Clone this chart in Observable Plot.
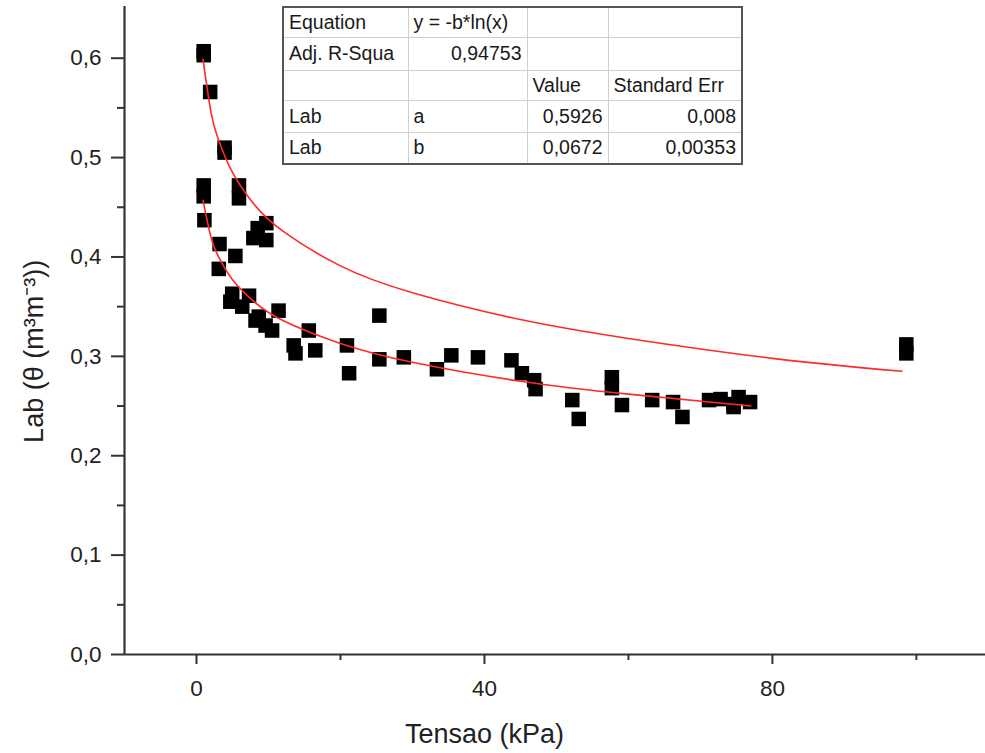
<!DOCTYPE html>
<html>
<head>
<meta charset="utf-8">
<script src="https://cdn.jsdelivr.net/npm/d3@7"></script>
<script src="https://cdn.jsdelivr.net/npm/@observablehq/plot@0.6"></script>
<style>
  html, body { margin: 0; padding: 0; background: #fff; }
  #wrap { position: relative; width: 985px; height: 753px; font-family: "Liberation Sans", Arial, sans-serif; }
  #fit { position: absolute; left: 282px; top: 6px; border-collapse: collapse; table-layout: fixed; border: 2px solid #555; font-size: 19.5px; color: #1a1a1a; background: #fff; }
  #fit td { border: 1.5px solid #cfcfcf; padding: 0 5px; white-space: nowrap; overflow: hidden; box-sizing: border-box; }
  #fit td.num { text-align: right; }
</style>
</head>
<body>
<div id="wrap"></div>
<script>
// ---- Data ----
const tensao = [1.0, 1.0, 1.9, 3.9, 3.9, 1.0, 1.0, 5.9, 5.9, 1.1, 7.9, 8.5, 9.7, 9.7, 3.2, 5.4, 3.1,
  4.96, 4.7, 7.3, 6.35, 8.65, 11.4, 10.5, 9.6, 8.2, 15.6, 13.5, 13.75, 16.5, 20.9, 21.2,
  25.4, 25.4, 28.8, 33.4, 35.4, 39.1, 43.75, 45.2, 46.9, 47.1, 52.2, 53.1, 57.7, 57.7, 59.1,
  63.3, 66.2, 67.5, 71.2, 72.8, 74.6, 75.3, 74.6, 76.9, 98.6, 98.6];
const lab = [0.607, 0.603, 0.566, 0.510, 0.505, 0.472, 0.461, 0.472, 0.459, 0.437, 0.419, 0.429, 0.417, 0.434, 0.413, 0.401, 0.388,
  0.363, 0.355, 0.361, 0.350, 0.340, 0.346, 0.326, 0.331, 0.336, 0.326, 0.311, 0.303, 0.306, 0.311, 0.283,
  0.341, 0.297, 0.299, 0.287, 0.301, 0.299, 0.296, 0.283, 0.276, 0.267, 0.256, 0.237, 0.279, 0.268, 0.251,
  0.256, 0.254, 0.239, 0.256, 0.257, 0.252, 0.259, 0.249, 0.254, 0.312, 0.303];

// fitted curves
const upperX = [0.9, 2, 3, 5, 8, 12, 20, 30, 45, 60, 80, 98];
const upperY = [0.599, 0.546, 0.519, 0.485, 0.453, 0.426, 0.391, 0.364, 0.337, 0.318, 0.298, 0.285];
const lowerX = [0.9, 2, 3, 5, 8, 12, 20, 30, 45, 60, 77];
const lowerY = [0.457, 0.420, 0.401, 0.377, 0.355, 0.336, 0.313, 0.294, 0.275, 0.262, 0.250];

// ticks
const xMajor = [0, 40, 80];
const xMinor = [20, 60, 100];
const yMajor = [0, 0.1, 0.2, 0.3, 0.4, 0.5, 0.6];
const yMinor = [0.05, 0.15, 0.25, 0.35, 0.45, 0.55];

// titles
const xTitle = "Tensao (kPa)";
const yTitle = "Lab (θ (m³m⁻³))";

// fit table
const tableRows = [
  ["Equation", "y = -b*ln(x)", "", ""],
  ["Adj. R-Squa", "0,94753", "", ""],
  ["", "", "Value", "Standard Err"],
  ["Lab", "a", "0,5926", "0,008"],
  ["Lab", "b", "0,0672", "0,00353"]
];
const colWidths = [125, 119, 81, 134];
const rowHeights = [30, 33, 30, 32, 32];

// ---- Build ----
const points = tensao.map((x, i) => ({x, y: lab[i]}));
const upper = upperX.map((x, i) => ({x, y: upperY[i]}));
const lower = lowerX.map((x, i) => ({x, y: lowerY[i]}));
const fmt = d => d.toFixed(1).replace(".", ",");
const axisColor = "#333";
const font = "'Liberation Sans', Arial, sans-serif";

const chart = Plot.plot({
  width: 985,
  height: 753,
  marginLeft: 124,
  marginRight: 0,
  marginTop: 8,
  marginBottom: 99,
  style: {fontFamily: font, color: "#222", background: "#fff"},
  x: {domain: [-10, 109.6]},
  y: {domain: [0, 0.65]},
  marks: [
    Plot.axisY({ticks: yMajor, tickSize: 13, tickPadding: 10, tickFormat: fmt, fontSize: 22.5, label: null, stroke: axisColor, strokeWidth: 2}),
    Plot.axisY({ticks: yMinor, tickSize: 7, text: null, label: null, stroke: axisColor, strokeWidth: 2}),
    Plot.axisX({ticks: xMajor, tickSize: 10, tickPadding: 16, tickFormat: d => String(d), fontSize: 22.5, label: null, stroke: axisColor, strokeWidth: 2}),
    Plot.axisX({ticks: xMinor, tickSize: 6, text: null, label: null, stroke: axisColor, strokeWidth: 2}),
    Plot.ruleY([0], {stroke: axisColor, strokeWidth: 2.2}),
    Plot.ruleX([-10], {stroke: axisColor, strokeWidth: 2.2, y1: 0, y2: 0.652}),
    Plot.dot(points, {x: "x", y: "y", symbol: "square", r: 8.2, fill: "black"}),
    Plot.line(upper, {x: "x", y: "y", stroke: "#ff2a2a", strokeWidth: 1.6, curve: "natural"}),
    Plot.line(lower, {x: "x", y: "y", stroke: "#ff2a2a", strokeWidth: 1.6, curve: "natural"}),
    Plot.text([xTitle], {x: 40, frameAnchor: "bottom", dy: 88, text: d => d, fontSize: 27, fill: "#222"}),
    Plot.text([yTitle], {y: 0.305, frameAnchor: "left", dx: -90, rotate: -90, textAnchor: "middle", text: d => d, fontSize: 27, fill: "#222"})
  ]
});

const wrap = document.getElementById("wrap");
wrap.appendChild(chart);

// table overlay
const table = document.createElement("table");
table.id = "fit";
tableRows.forEach((row, r) => {
  const tr = document.createElement("tr");
  tr.style.height = rowHeights[r] + "px";
  row.forEach((cell, c) => {
    const td = document.createElement("td");
    td.textContent = cell;
    td.style.width = colWidths[c] + "px";
    td.style.height = rowHeights[r] + "px";
    if (/^[0-9]/.test(cell)) td.className = "num";
    tr.appendChild(td);
  });
  table.appendChild(tr);
});
wrap.appendChild(table);
</script>
</body>
</html>
